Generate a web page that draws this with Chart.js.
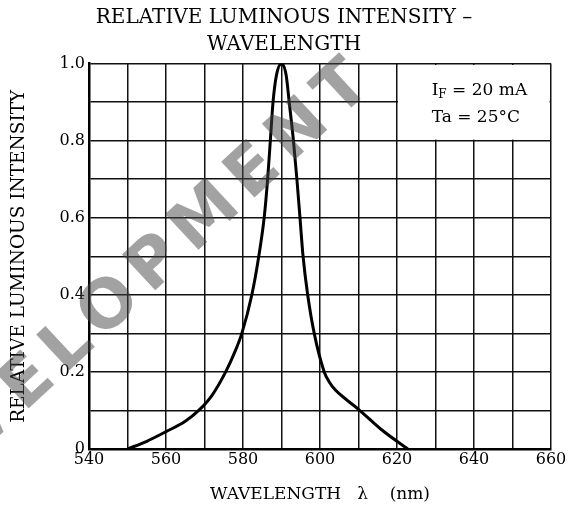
<!DOCTYPE html>
<html>
<head>
<meta charset="utf-8">
<script src="https://cdn.jsdelivr.net/npm/chart.js@4"></script>
<style>
  html, body { margin: 0; padding: 0; background: #fff; }
  canvas { display: block; }
</style>
</head>
<body>
<canvas id="chart" width="576" height="511"></canvas>
<script>
// ── data ──
const WAVELENGTH = [550, 555, 560, 565, 568.5, 572, 575.5, 577.8, 579.7, 582.3, 584.1, 585.5, 586.4, 587.1, 587.8, 588.7, 590,
  591.2, 592, 593.1, 594, 594.8, 595.6, 596.8, 598.5, 601.1, 602.4, 604, 607, 610, 616, 622.8];
const INTENSITY = [0, 0.02, 0.045, 0.072, 0.1, 0.14, 0.2, 0.25, 0.3, 0.4, 0.5, 0.6, 0.7, 0.8, 0.9, 0.97, 1.0,
  0.97, 0.9, 0.8, 0.7, 0.6, 0.5, 0.4, 0.3, 0.2, 0.174, 0.153, 0.127, 0.103, 0.05, 0];

const X_LABELS = [540, 560, 580, 600, 620, 640, 660];
const Y_LABELS = [0, 0.2, 0.4, 0.6, 0.8, 1.0];
const TITLE_LINES = ['RELATIVE LUMINOUS INTENSITY \u2013', 'WAVELENGTH'];
const X_TITLE = 'WAVELENGTH   \u03BB    (nm)';
const Y_TITLE = 'RELATIVE LUMINOUS INTENSITY';
const COND_1 = ['I', 'F', ' = 20 mA'];
const COND_2 = 'Ta = 25\u00B0C';
const WATERMARK = 'DEVELOPMENT';

const SERIF = '"DejaVu Serif", serif';
Chart.defaults.color = '#000';
Chart.defaults.font.family = SERIF;

// white box with test conditions, top-right corner of the grid
const condBox = {
  id: 'condBox',
  beforeDatasetsDraw(chart) {
    const { ctx, scales: { x, y } } = chart;
    const l = x.getPixelForValue(620), r = x.getPixelForValue(660);
    const t = y.getPixelForValue(1), b = y.getPixelForValue(0.8);
    ctx.save();
    ctx.fillStyle = '#fff';
    ctx.fillRect(l + 1, t + 1.5, r - l - 2.5, b - t - 2.5);

    ctx.fillStyle = '#000';
    ctx.textBaseline = 'alphabetic';
    const x0 = x.getPixelForValue(629);
    const y1 = y.getPixelForValue(0.917), y2 = y.getPixelForValue(0.848);
    let tx = x0;
    ctx.font = '17px ' + SERIF;
    ctx.fillText(COND_1[0], tx, y1);
    tx += ctx.measureText(COND_1[0]).width;
    ctx.font = '12px ' + SERIF;
    ctx.fillText(COND_1[1], tx, y1 + 3);
    tx += ctx.measureText(COND_1[1]).width;
    ctx.font = '17px ' + SERIF;
    ctx.fillText(COND_1[2], tx, y1);
    ctx.fillText(COND_2, x0, y2);
    ctx.restore();
  }
};

// dotted "DEVELOPMENT" stamp across the plot
const watermark = {
  id: 'watermark',
  afterDraw(chart) {
    const ctx = chart.ctx;
    ctx.save();
    ctx.translate(368, 68);
    ctx.rotate(-43 * Math.PI / 180);
    ctx.font = 'bold 67px "DejaVu Sans"';
    ctx.letterSpacing = '10px';
    ctx.fillStyle = 'rgba(70,70,70,0.5)';
    ctx.textAlign = 'right';
    ctx.textBaseline = 'middle';
    ctx.fillText(WATERMARK, 0, 0);
    ctx.restore();
  }
};

new Chart(document.getElementById('chart').getContext('2d'), {
  type: 'line',
  data: {
    datasets: [{
      data: WAVELENGTH.map((w, i) => ({ x: w, y: INTENSITY[i] })),
      borderColor: '#000',
      borderWidth: 3,
      pointRadius: 0,
      cubicInterpolationMode: 'monotone',
      fill: false,
    }]
  },
  options: {
    responsive: false,
    animation: false,
    layout: { padding: { left: 0, right: 8, top: 0, bottom: 0 } },
    plugins: {
      legend: { display: false },
      tooltip: { enabled: false },
      title: {
        display: true,
        text: TITLE_LINES,
        font: { size: 20, weight: 'normal', lineHeight: '27.5px' },
        padding: { top: 4, bottom: 4.5 },
      },
    },
    scales: {
      x: {
        type: 'linear', min: 540, max: 660,
        afterFit: s => { s.height = 62; },
        ticks: {
          stepSize: 10, autoSkip: false, maxRotation: 0, padding: 1,
          font: { size: 16 },
          callback: v => X_LABELS.includes(v) ? String(v) : '',
        },
        grid: { color: '#111', lineWidth: 1.5, drawTicks: false },
        border: { color: '#000', width: 2.5 },
        title: { display: true, text: X_TITLE, font: { size: 17 }, padding: { top: 0, bottom: 6 } },
      },
      y: {
        min: 0, max: 1,
        afterFit: s => { s.width = 89; },
        ticks: {
          stepSize: 0.1, autoSkip: false, padding: 4,
          font: { size: 16 },
          callback: v => {
            const l = Y_LABELS.find(k => Math.abs(k - v) < 1e-6);
            return l === undefined ? '' : (l === 0 ? '0' : l.toFixed(1));
          },
        },
        grid: { color: '#111', lineWidth: 1.5, drawTicks: false },
        border: { color: '#000', width: 2.5 },
        title: { display: true, text: Y_TITLE, font: { size: 18.5 }, padding: { top: 8, bottom: 0 } },
      },
      // blank right-hand strip so the plot ends where the reference does
      yPad: {
        position: 'right', min: 0, max: 1,
        afterFit: s => { s.width = 17; },
        ticks: { display: false },
        grid: { display: false },
        border: { display: false },
      },
    },
  },
  plugins: [condBox, watermark],
});
</script>
</body>
</html>
